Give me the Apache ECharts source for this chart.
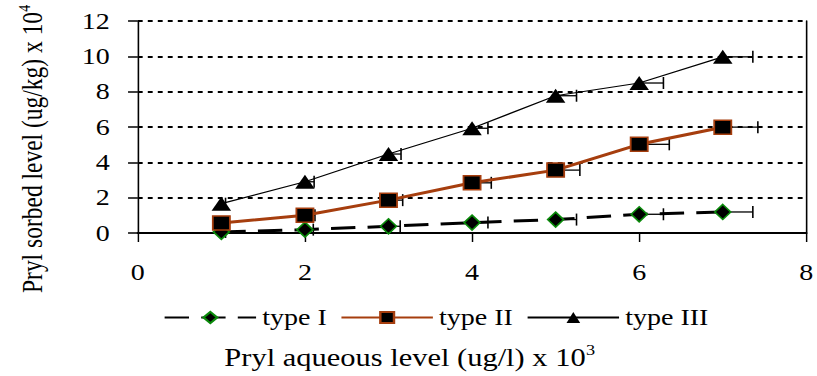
<!DOCTYPE html>
<html>
<head>
<meta charset="utf-8">
<script src="https://cdn.jsdelivr.net/npm/echarts@6/dist/echarts.min.js"></script>
<style>
  html, body { margin: 0; padding: 0; background: #fff; overflow: hidden; }
  /* the original figure is stretched sideways, so draw narrow and widen */
  #chart { width: 670px; height: 376px; transform: scaleX(1.2194); transform-origin: 0 0; }
</style>
</head>
<body>
<div id="chart"></div>
<script>
// aqueous level (x 10^3) for each point
const xLevels = [1, 2, 3, 4, 5, 6, 7];
// sorbed level (x 10^4)
const type1 = [0.06, 0.19, 0.38, 0.59, 0.76, 1.06, 1.19];
const type2 = [0.57, 1.0, 1.86, 2.84, 3.56, 5.02, 5.99];
const type3 = [1.66, 2.9, 4.47, 5.93, 7.77, 8.49, 9.97];
// horizontal (x) error, plus side only
const err1 = [0.05, 0.1, 0.14, 0.19, 0.25, 0.29, 0.36];
const err2 = [0.06, 0.12, 0.17, 0.23, 0.29, 0.36, 0.42];
const err3 = [0.05, 0.11, 0.15, 0.19, 0.25, 0.29, 0.36];
const xTicks = [0, 8, 2];   // min, max, step
const yTicks = [0, 12, 2];

const font = 'Liberation Serif';
const brown = '#A63E0E';

function pairs(ys) {
    return xLevels.map((x, i) => [x, ys[i]]);
}

function errData(ys, errs) {
    return xLevels.map((x, i) => [x, ys[i], errs[i]]);
}

// error bar drawn with the axis scales
function errBar(params, api) {
    var p0 = api.coord([api.value(0), api.value(1)]);
    var p1 = api.coord([api.value(0) + api.value(2), api.value(1)]);
    var style = { stroke: '#000', lineWidth: 1.3 };
    return {
        type: 'group',
        children: [
            { type: 'line', shape: { x1: p0[0], y1: p0[1], x2: p1[0], y2: p1[1] }, style: style },
            { type: 'line', shape: { x1: p1[0], y1: p1[1] - 6, x2: p1[0], y2: p1[1] + 6 }, style: style }
        ]
    };
}

var myChart = echarts.init(document.getElementById('chart'), null, { renderer: 'svg' });
var option = {
    animation: false,
    backgroundColor: '#fff',
    grid: { left: 113, right: 7, top: 21, bottom: 143 },
    xAxis: {
        type: 'value',
        min: xTicks[0], max: xTicks[1], interval: xTicks[2],
        axisLine: { lineStyle: { color: '#000', width: 1.8 } },
        axisTick: { show: true, length: 9, lineStyle: { color: '#000', width: 1.2 } },
        axisLabel: { margin: 28, color: '#000', fontFamily: font, fontSize: 23 },
        splitLine: { show: false }
    },
    yAxis: [{
        type: 'value',
        min: yTicks[0], max: yTicks[1], interval: yTicks[2],
        axisLine: { show: true, lineStyle: { color: '#000', width: 1.3 } },
        axisTick: { show: true, length: 8, lineStyle: { color: '#000', width: 1.5 } },
        axisLabel: { margin: 23, color: '#000', fontFamily: font, fontSize: 23 },
        splitLine: { show: true, lineStyle: { color: '#000', width: 2, type: [4, 4.2] } }
    }, {
        type: 'value', position: 'right',
        min: yTicks[0], max: yTicks[1], interval: yTicks[2],
        axisLine: { show: true, lineStyle: { color: '#000', width: 1.3 } },
        axisTick: { show: false }, axisLabel: { show: false },
        splitLine: { show: false }
    }],
    legend: {
        data: ['type I', 'type II', 'type III'],
        left: 129, top: 301,
        itemWidth: 75, itemHeight: 14, itemGap: 11,
        textStyle: { color: '#000', fontFamily: font, fontSize: 23 }
    },
    graphic: [{
        type: 'text',
        left: 184, top: 343,
        style: {
            text: '{t|Pryl aqueous level (ug/l) x 10}{s|3}',
            rich: {
                t: { fontFamily: font, fontSize: 25, fill: '#000' },
                s: { fontFamily: font, fontSize: 15, fill: '#000', padding: [0, 0, 14, 0] }
            }
        }
    }, {
        type: 'text',
        x: 13, y: 293,
        rotation: Math.PI / 2,
        style: {
            text: '{t|Pryl sorbed level (ug/kg) x 10}{s|4}',
            rich: {
                t: { fontFamily: font, fontSize: 23.5, fill: '#000' },
                s: { fontFamily: font, fontSize: 14, fill: '#000', padding: [0, 0, 14, 0] }
            }
        }
    }],
    series: [
        { type: 'custom', name: 'err1', renderItem: errBar, data: errData(type1, err1), z: 1 },
        { type: 'custom', name: 'err2', renderItem: errBar, data: errData(type2, err2), z: 1 },
        { type: 'custom', name: 'err3', renderItem: errBar, data: errData(type3, err3), z: 1 },
        {
            name: 'type I', type: 'line', data: pairs(type1), z: 3,
            symbol: 'diamond', symbolSize: [13, 15],
            lineStyle: { color: '#000', width: 3, type: [20, 10] },
            itemStyle: { color: '#000', borderColor: '#0A8A0A', borderWidth: 1.5 }
        },
        {
            name: 'type II', type: 'line', data: pairs(type2), z: 3,
            symbol: 'rect', symbolSize: 14,
            lineStyle: { color: brown, width: 3 },
            itemStyle: { color: '#000', borderColor: brown, borderWidth: 1.5 }
        },
        {
            name: 'type III', type: 'line', data: pairs(type3), z: 3,
            symbol: 'triangle', symbolSize: [16, 14],
            lineStyle: { color: '#000', width: 1.2 },
            itemStyle: { color: '#000' }
        }
    ]
};
myChart.setOption(option);
</script>
</body>
</html>
